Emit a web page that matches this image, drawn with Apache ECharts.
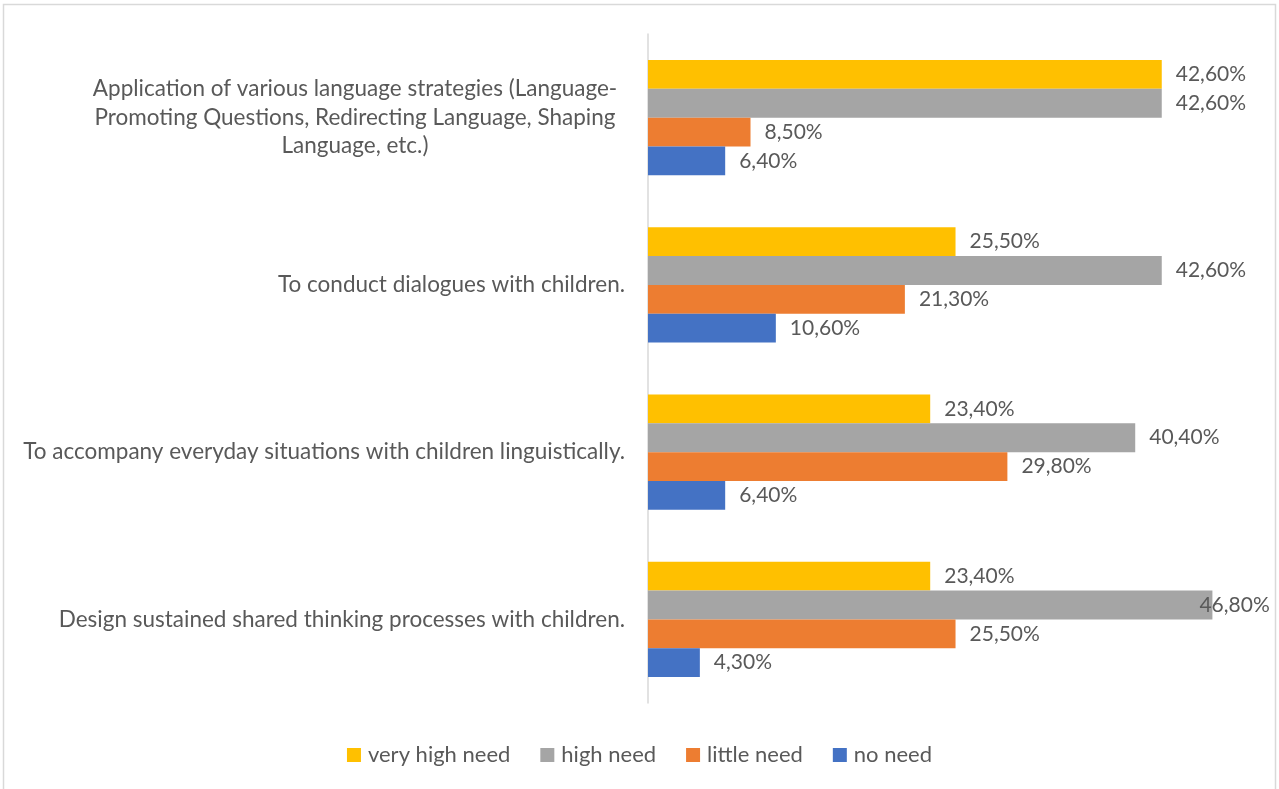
<!DOCTYPE html>
<html>
<head>
<meta charset="utf-8">
<script src="https://cdn.jsdelivr.net/npm/echarts@6/dist/echarts.min.js"></script>
<style>
  html, body { margin: 0; padding: 0; background: #fff; }
  #chart { width: 1279px; height: 789px; }
</style>
</head>
<body>
<div id="chart"></div>
<script>
// Survey items (top to bottom)
const categories = [
  'Application of various language strategies (Language-\nPromoting Questions, Redirecting Language, Shaping\nLanguage, etc.)',
  'To conduct dialogues with children.',
  'To accompany everyday situations with children linguistically.',
  'Design sustained shared thinking processes with children.'
];

// Share of respondents per need level, in percent
const veryHighNeed = [42.6, 25.5, 23.4, 23.4];
const highNeed     = [42.6, 42.6, 40.4, 46.8];
const littleNeed   = [8.5, 21.3, 29.8, 25.5];
const noNeed       = [6.4, 10.6, 6.4, 4.3];

const seriesNames  = ['very high need', 'high need', 'little need', 'no need'];
const seriesColors = ['#FFC000', '#A5A5A5', '#ED7D31', '#4472C4'];

const FONT = 'Lato';
const TEXT = '#595959';

const fmt = v => v.toFixed(2).replace('.', ',') + '%';

function makeSeries(name, values, color) {
  return {
    name: name,
    type: 'bar',
    barGap: '0%',
    barCategoryGap: '31%',
    itemStyle: { color: color },
    label: {
      show: true,
      position: 'right',
      distance: 14,
      color: TEXT,
      fontFamily: FONT,
      fontSize: 21,
      formatter: p => fmt(p.value)
    },
    data: values.map(v => {
      // keep the longest label inside the chart frame
      if (v > 45) return { value: v, label: { offset: [-27, 0] } };
      return v;
    })
  };
}

const chart = echarts.init(document.getElementById('chart'), null, { renderer: 'canvas' });

chart.setOption({
  animation: false,
  backgroundColor: '#ffffff',
  graphic: [{
    type: 'rect',
    shape: { x: 3.5, y: 4.5, width: 1272, height: 900 },
    style: { fill: 'none', stroke: '#D9D9D9', lineWidth: 1.5 },
    silent: true
  }],
  grid: { left: 648, right: 28, top: 34, bottom: 86, containLabel: false },
  legend: {
    bottom: 18,
    left: 'center',
    itemWidth: 14,
    itemHeight: 14,
    itemGap: 30,
    icon: 'rect',
    textStyle: { color: TEXT, fontFamily: FONT, fontSize: 22, padding: [0, 0, 0, 2] },
    data: seriesNames
  },
  xAxis: {
    type: 'value',
    min: 0,
    max: 50,
    show: false
  },
  yAxis: {
    type: 'category',
    inverse: true,
    data: categories,
    axisLine: { show: true, lineStyle: { color: '#D9D9D9', width: 1.5 } },
    axisTick: { show: false },
    axisLabel: {
      margin: 23,
      color: TEXT,
      fontFamily: FONT,
      fontSize: 22.5,
      lineHeight: 28.5,
      formatter: (value) => value.indexOf('\n') >= 0 ? '{c|' + value.split('\n').join('}\n{c|') + '}' : value,
      rich: {
        c: { width: 540, align: 'center', color: TEXT, fontFamily: FONT, fontSize: 22.5, lineHeight: 28.5 }
      }
    }
  },
  series: [
    makeSeries(seriesNames[0], veryHighNeed, seriesColors[0]),
    makeSeries(seriesNames[1], highNeed, seriesColors[1]),
    makeSeries(seriesNames[2], littleNeed, seriesColors[2]),
    makeSeries(seriesNames[3], noNeed, seriesColors[3])
  ]
});
</script>
</body>
</html>
